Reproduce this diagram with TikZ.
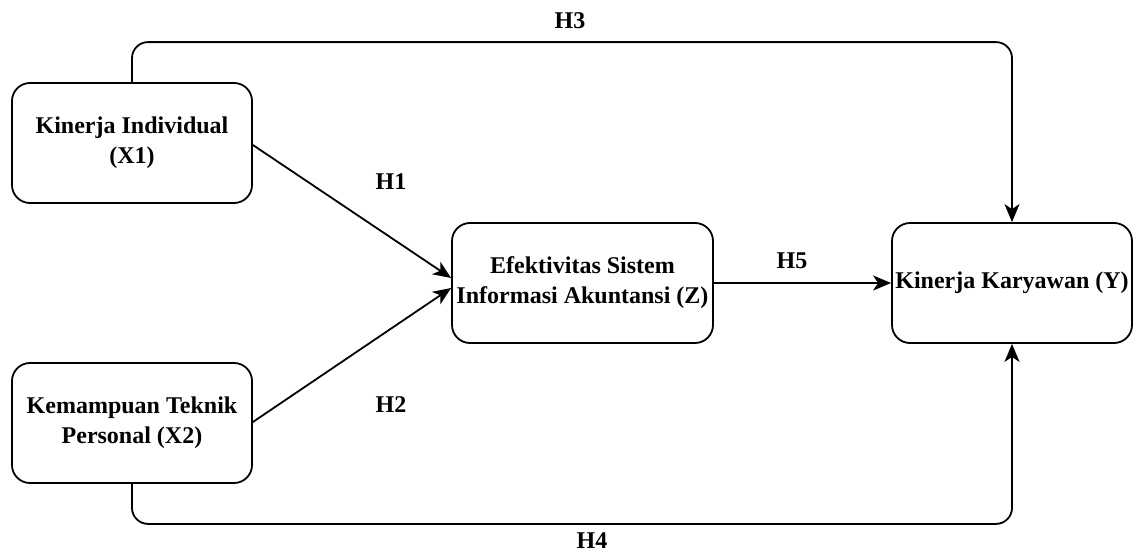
\documentclass[tikz,border=0pt]{standalone}
\usepackage{fontspec}
\setmainfont{Liberation Serif}
\usetikzlibrary{arrows.meta}
\begin{document}
\begin{tikzpicture}[x=1pt,y=-1pt,
  varbox/.style={draw, line width=1.8pt, rounded corners=18pt, align=center,
    inner sep=0pt, font=\bfseries\fontsize{24}{30}\selectfont},
  hlabel/.style={font=\bfseries\fontsize{24}{28}\selectfont, inner sep=0pt},
  link/.style={line width=1.8pt, -{Stealth[length=18pt, width=15pt, inset=5pt]}}
]
\useasboundingbox (0,0) rectangle (1138,554);

% variables
\node[varbox, minimum width=240pt, minimum height=120pt] (x1) at (132,143)
  {Kinerja Individual\\(X1)};
\node[varbox, minimum width=240pt, minimum height=120pt] (x2) at (132,423)
  {Kemampuan Teknik\\Personal (X2)};
\node[varbox, minimum width=261pt, minimum height=120pt] (z) at (582.5,283)
  {Efektivitas Sistem\\Informasi Akuntansi (Z)};
\node[varbox, minimum width=240pt, minimum height=120pt] (y) at (1012,283)
  {Kinerja Karyawan (Y)};

% hypotheses
\draw[link] ([yshift=-2pt]x1.east) -- ([yshift=5pt]z.west);
\draw[link] ([yshift=1pt]x2.east) -- ([yshift=-5pt]z.west);
\draw[link] (z.east) -- (y.west);
\draw[link, rounded corners=16pt] (x1.north) -- ++(0,-40) -| (y.north);
\draw[link, rounded corners=16pt] (x2.south) -- ++(0,40) -| (y.south);

% labels
\node[hlabel] (h3) at (570,21) {H3};
\node[hlabel] (h1) at (391,182) {H1};
\node[hlabel] (h2) at (391,405) {H2};
\node[hlabel] (h5) at (792,261) {H5};
\node[hlabel] (h4) at (592,541) {H4};
\end{tikzpicture}
\end{document}
